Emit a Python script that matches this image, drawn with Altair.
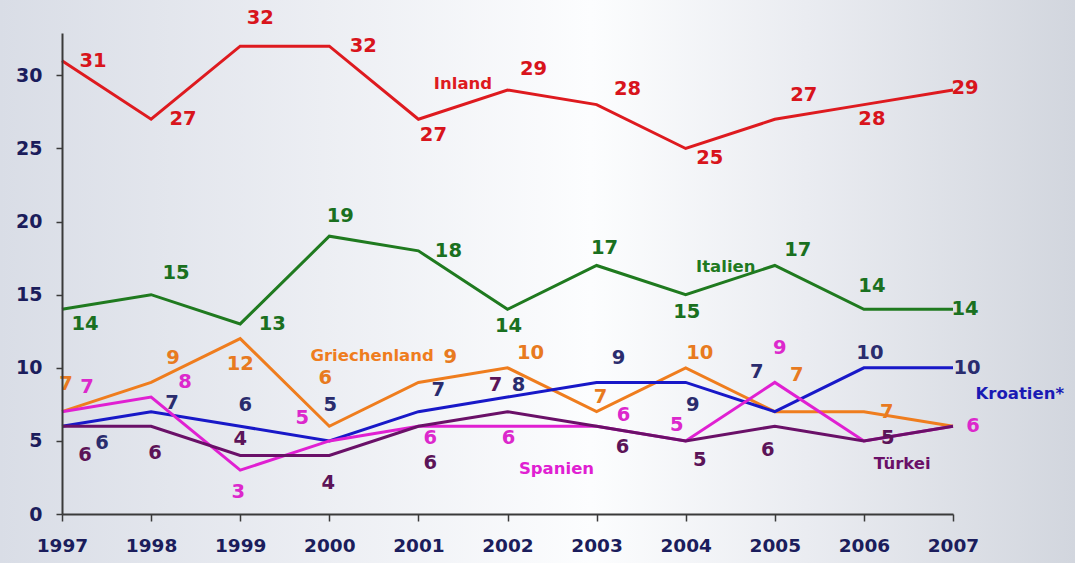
import altair as alt
import pandas as pd

years = list(range(1997, 2008))

series_names = ["Inland", "Italien", "Griechenland", "Kroatien*", "Spanien", "Türkei"]
inland = [31, 27, 32, 32, 27, 29, 28, 25, 27, 28, 29]
italien = [14, 15, 13, 19, 18, 14, 17, 15, 17, 14, 14]
griechenland = [7, 9, 12, 6, 9, 10, 7, 10, 7, 7, 6]
kroatien = [6, 7, 6, 5, 7, 8, 9, 9, 7, 10, 10]
spanien = [7, 8, 3, 5, 6, 6, 6, 5, 9, 5, 6]
tuerkei = [6, 6, 4, 4, 6, 7, 6, 5, 6, 5, 6]

line_colors = ["#de1a1f", "#1f7a1f", "#ef7d1e", "#1818c8", "#e020d2", "#6a1068"]
label_colors = ["#d8141c", "#1a7020", "#e87a20", "#2a2c6e", "#dc28cc", "#5c1458"]

# label offsets in pixels (dx, dy) per point; None = no label drawn
off_inland = [(31, 0), (32, 0), (20, -28), (34, 0), (15, 16), (26, -21), (31, -16), (24, 10), (29, -24), (8, 14), (12, -2)]
off_italien = [(23, 15), (25, -22), (32, 0), (11, -20), (30, 0), (1, 17), (8, -17), (1, 17), (23, -15), (8, -23), (12, 0)]
off_griech = [(4, -28), (22, -24), (0, 25), (-4, -48), (32, -25), (23, -15), (4, -15), (14, -15), (22, -37), (23, 0), None]
off_kroat = [(40, 17), (21, -9), (5, -21), (1, -36), (20, -22), (11, -12), (22, -24), (7, 23), (-18, -40), (6, -15), (14, 0)]
off_span = [(25, -25), (34, -15), (-2, 22), (-27, -23), (12, 12), (1, 12), (27, -11), (-9, -16), (5, -34), None, (20, 0)]
off_tuerk = [(23, 29), (4, 27), (0, -17), (-1, 27), (12, 37), (-12, -27), (26, 21), (14, 19), (-7, 24), (24, -3), None]

# series name labels: (text, year position, value position, color index)
name_labels = [
    ("Inland", 2001.5, 29.4, 0),
    ("Italien", 2004.45, 16.9, 1),
    ("Griechenland", 2000.48, 10.8, 2),
    ("Kroatien*", 2007.75, 8.2, 3),
    ("Spanien", 2002.55, 3.1, 4),
    ("Türkei", 2006.43, 3.45, 5),
]

all_values = [inland, italien, griechenland, kroatien, spanien, tuerkei]
all_offsets = [off_inland, off_italien, off_griech, off_kroat, off_span, off_tuerk]

W, H = 891, 481
FONT = "DejaVu Sans"

xscale = alt.Scale(domain=[1997, 2007], nice=False, zero=False)
yscale = alt.Scale(domain=[0, 32.9], nice=False)

gradient = alt.LinearGradient(
    gradient="linear",
    stops=[
        alt.GradientStop(color="#d9dde6", offset=0),
        alt.GradientStop(color="#eceef3", offset=0.3),
        alt.GradientStop(color="#fcfdfe", offset=0.55),
        alt.GradientStop(color="#eaecf1", offset=0.75),
        alt.GradientStop(color="#d2d6de", offset=1),
    ],
    x1=0, x2=1, y1=0, y2=0,
)

bg = alt.Chart(pd.DataFrame({"a": [0]})).mark_rect(color=gradient).encode(
    x=alt.value(-62), x2=alt.value(W + 122), y=alt.value(-33), y2=alt.value(H + 49)
)

rows = []
for name, vals in zip(series_names, all_values):
    for y, v in zip(years, vals):
        rows.append({"year": y, "value": v, "series": name})
df = pd.DataFrame(rows)

lines = alt.Chart(df).mark_line(strokeWidth=3, strokeJoin="miter").encode(
    x=alt.X("year:Q", scale=xscale,
            axis=alt.Axis(values=years, format="d", title=None, grid=False, zindex=1,
                          domainColor="#3a3a3a", domainWidth=2, tickColor="#3a3a3a",
                          tickWidth=1.5, tickSize=7, labelFont=FONT, labelFontSize=18.5,
                          labelFontWeight="bold", labelColor="#1b1d5c", labelPadding=15,
                          labelFlush=False)),
    y=alt.Y("value:Q", scale=yscale,
            axis=alt.Axis(values=[0, 5, 10, 15, 20, 25, 30], title=None, grid=False, zindex=1,
                          domainColor="#3a3a3a", domainWidth=2, tickColor="#3a3a3a",
                          tickWidth=1.5, tickSize=6, labelFont=FONT, labelFontSize=19,
                          labelFontWeight="bold", labelColor="#1b1d5c", labelPadding=14)),
    color=alt.Color("series:N", scale=alt.Scale(domain=series_names, range=line_colors), legend=None),
    order=alt.Order("year:Q"),
)

layers = [bg, lines]

for si, (vals, offs) in enumerate(zip(all_values, all_offsets)):
    for y, v, off in zip(years, vals, offs):
        if off is None:
            continue
        d = pd.DataFrame({"year": [y], "value": [v], "t": [str(v)]})
        layers.append(
            alt.Chart(d).mark_text(
                dx=off[0], dy=off[1], font=FONT, fontSize=19.5, fontWeight="bold",
                color=label_colors[si], align="center", baseline="middle",
            ).encode(x=alt.X("year:Q", scale=xscale), y=alt.Y("value:Q", scale=yscale), text="t:N")
        )

for text, xpos, ypos, ci in name_labels:
    d = pd.DataFrame({"year": [xpos], "value": [ypos], "t": [text]})
    layers.append(
        alt.Chart(d).mark_text(
            font=FONT, fontSize=16.5, fontWeight="bold",
            color=line_colors[ci] if ci != 3 else "#1a1ab4",
            align="center", baseline="middle",
        ).encode(x=alt.X("year:Q", scale=xscale), y=alt.Y("value:Q", scale=yscale), text="t:N")
    )

chart = alt.layer(*layers).properties(
    width=W, height=H,
    autosize=alt.AutoSizeParams(type="none"),
    padding={"left": 62, "top": 33, "right": 122, "bottom": 49},
    background="#e4e7ec",
).configure_view(strokeWidth=0)

chart.save("out.html", embed_options={"renderer": "svg", "actions": False})
